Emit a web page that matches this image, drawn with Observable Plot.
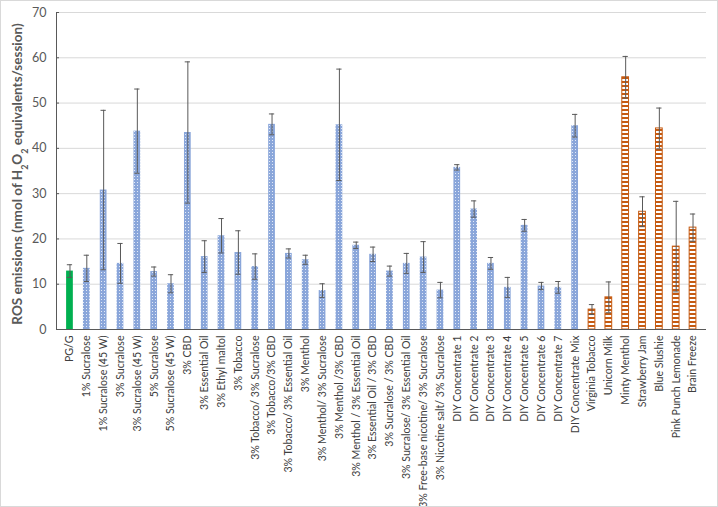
<!DOCTYPE html>
<html>
<head>
<meta charset="utf-8">
<script src="https://cdn.jsdelivr.net/npm/d3@7"></script>
<script src="https://cdn.jsdelivr.net/npm/@observablehq/plot@0.6"></script>
<style>
  html, body { margin: 0; padding: 0; background: #fff; }
  #chart svg { display: block; border: 1px solid #d9d9d9; }
</style>
</head>
<body>
<div id="chart"></div>
<script>
const categories = [
  "PG/G", "1% Sucralose", "1% Sucralose (45 W)", "3% Sucralose", "3% Sucralose (45 W)",
  "5% Sucralose", "5% Sucralose (45 W)", "3% CBD", "3% Essential Oil", "3% Ethyl maltol",
  "3% Tobacco", "3% Tobacco/ 3% Sucralose", "3% Tobacco/3% CBD", "3% Tobacco/ 3% Essential Oil",
  "3% Menthol", "3% Menthol/ 3% Sucralose", "3% Menthol /3% CBD", "3% Menthol / 3% Essential Oil",
  "3% Essential Oil / 3% CBD", "3% Sucralose / 3% CBD", "3% Sucralose/ 3% Essential Oil",
  "3% Free-base nicotine/ 3% Sucralose", "3% Nicotine salt/ 3% Sucralose",
  "DIY Concentrate 1", "DIY Concentrate 2", "DIY Concentrate 3", "DIY Concentrate 4",
  "DIY Concentrate 5", "DIY Concentrate 6", "DIY Concentrate 7", "DIY Concentrate Mix",
  "Virginia Tobacco", "Unicorn Milk", "Minty Menthol", "Strawberry Jam", "Blue Slushie",
  "Pink Punch Lemonade", "Brain Freeze"
];
const values = [
  12.9, 13.5, 30.8, 14.6, 43.8, 12.8, 10.1, 43.5, 16.1, 20.7,
  17.0, 13.9, 45.3, 16.8, 15.4, 8.6, 45.2, 18.6,
  16.6, 12.9, 14.6, 16.0, 8.7,
  35.8, 26.6, 14.6, 9.3, 23.0, 9.6, 9.3, 45.0,
  4.4, 7.1, 55.7, 26.0, 44.4, 18.3, 22.5
];
const errors = [
  1.4, 2.9, 17.6, 4.4, 9.3, 1.0, 2.0, 15.6, 3.5, 3.8,
  4.8, 2.8, 2.3, 1.0, 1.0, 1.5, 12.3, 0.7,
  1.6, 1.1, 2.2, 3.4, 1.7,
  0.6, 1.8, 1.3, 2.2, 1.3, 0.8, 1.3, 2.5,
  1.1, 3.4, 4.6, 3.3, 4.5, 10.0, 3.0
];
const groups = [
  "control",
  ...Array(30).fill("diy"),
  ...Array(7).fill("commercial")
];
const yTicks = [0, 10, 20, 30, 40, 50, 60, 70];

const data = categories.map((c, i) => ({
  name: c, value: values[i], err: errors[i], group: groups[i]
}));

const fills = { control: "#00b050", diy: "url(#pat-blue)", commercial: "url(#pat-orange)" };
const strokes = { control: "none", diy: "none", commercial: "#c55a11" };

const fontFamily = "Lato, 'Open Sans', sans-serif";

const plot = Plot.plot({
  width: 716,
  height: 505,
  marginLeft: 55,
  marginRight: 11,
  marginTop: 11,
  marginBottom: 177,
  style: { fontFamily, fontSize: "11px", color: "#404040", background: "#fff" },
  x: { domain: categories, padding: 0.6, label: null },
  y: { domain: [0, 70], ticks: yTicks, label: null },
  marks: [
    Plot.gridY(yTicks, { stroke: "#d9d9d9", strokeOpacity: 1 }),
    Plot.axisY(yTicks, { tickSize: 0, tickPadding: 10, fontSize: 12.5, fill: "#595959", label: null }),
    Plot.axisX({ tickSize: 0, tickPadding: 6, tickRotate: -90, fontSize: 10.6, fill: "#404040", label: null }),
    ...["control", "diy", "commercial"].map(g =>
      Plot.barY(data.filter(d => d.group === g), {
        x: "name", y: "value", fill: fills[g], stroke: strokes[g], strokeWidth: 1
      })
    ),
    Plot.ruleX(data, { x: "name", y1: d => d.value - d.err, y2: d => d.value + d.err, stroke: "#595959", strokeWidth: 1 }),
    Plot.tickY(data, { x: "name", y: d => d.value + d.err, stroke: "#595959", strokeWidth: 1, insetLeft: 6, insetRight: 6 }),
    Plot.tickY(data, { x: "name", y: d => d.value - d.err, stroke: "#595959", strokeWidth: 1, insetLeft: 6, insetRight: 6 }),
    Plot.ruleY([0], { stroke: "#595959" }),
    Plot.axisY(yTicks, { tickSize: -3, text: null, stroke: "#595959", label: null }),
    Plot.frame({ anchor: "left", stroke: "#595959" })
  ]
});

const svg = d3.select(plot);
const defs = svg.insert("defs", ":first-child");
const pb = defs.append("pattern").attr("id", "pat-blue").attr("patternUnits", "userSpaceOnUse")
  .attr("width", 3).attr("height", 3);
pb.append("rect").attr("width", 3).attr("height", 3).attr("fill", "#8aa6da");
pb.append("rect").attr("x", 1).attr("y", 1).attr("width", 1).attr("height", 1).attr("fill", "#e3eaf7");
const po = defs.append("pattern").attr("id", "pat-orange").attr("patternUnits", "userSpaceOnUse")
  .attr("width", 4).attr("height", 4);
po.append("rect").attr("width", 4).attr("height", 4).attr("fill", "#ffffff");
po.append("rect").attr("width", 4).attr("height", 2).attr("fill", "#c55a11");

// y-axis title with subscripts
const title = svg.append("text")
  .attr("transform", "translate(21,173) rotate(-90)")
  .attr("text-anchor", "middle")
  .attr("font-family", fontFamily)
  .attr("font-size", 13.5)
  .attr("font-weight", 700)
  .attr("fill", "#595959");
title.append("tspan").text("ROS emissions (nmol of H");
title.append("tspan").attr("baseline-shift", "sub").attr("font-size", 9).text("2");
title.append("tspan").text("O");
title.append("tspan").attr("baseline-shift", "sub").attr("font-size", 9).text("2");
title.append("tspan").text(" equivalents/session)");

document.getElementById("chart").appendChild(plot);
</script>
</body>
</html>
